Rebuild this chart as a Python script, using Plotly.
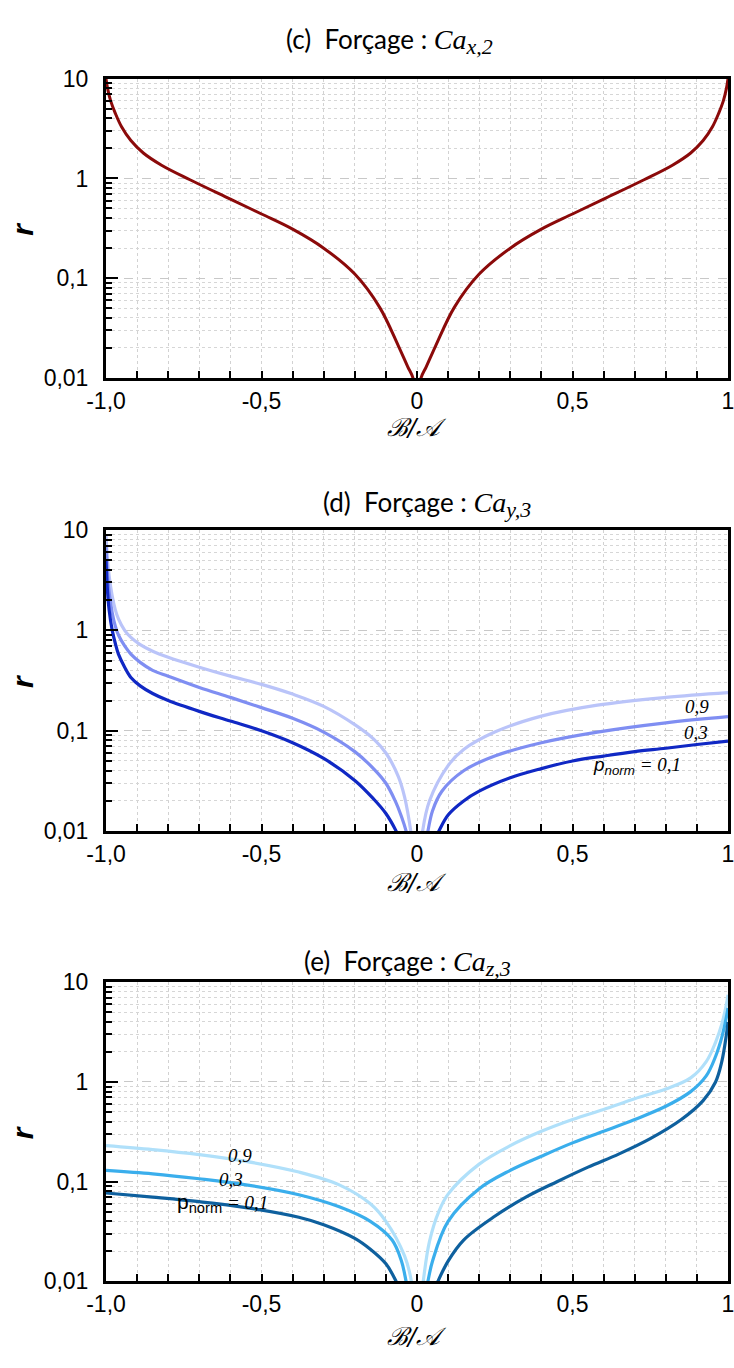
import plotly.graph_objects as go

# ---------------- data ----------------
# Panel (c)  Forcage Ca_x,2
c_x_left = [-1.0, -0.995, -0.985, -0.97, -0.95, -0.92, -0.88, -0.82, -0.73, -0.6, -0.5, -0.4, -0.3, -0.2, -0.12, -0.06, -0.03, -0.013, -0.006]
c_r_left = [10.0, 8.0, 6.0, 4.5, 3.3, 2.4, 1.8, 1.35, 0.97, 0.62, 0.44, 0.31, 0.2, 0.11, 0.051, 0.021, 0.013, 0.01, 0.006]
c_x_right = [0.006, 0.013, 0.03, 0.06, 0.12, 0.2, 0.3, 0.4, 0.5, 0.6, 0.73, 0.82, 0.88, 0.92, 0.95, 0.97, 0.985, 0.995, 1.0]
c_r_right = [0.006, 0.01, 0.013, 0.021, 0.051, 0.11, 0.2, 0.31, 0.44, 0.62, 0.97, 1.35, 1.8, 2.4, 3.3, 4.5, 6.0, 8.0, 10.0]

# Panel (d)  Forcage Ca_y,3  (p_norm = 0.1, 0.3, 0.9)
d_x_left_01 = [-1.0, -0.995, -0.99, -0.98, -0.97, -0.96, -0.94, -0.92, -0.89, -0.85, -0.8, -0.7, -0.6, -0.5, -0.4, -0.3, -0.2, -0.14, -0.1, -0.067, -0.05]
d_r_left_01 = [5.0, 2.4, 1.6, 1.0, 0.74, 0.58, 0.43, 0.34, 0.28, 0.235, 0.2, 0.156, 0.125, 0.1, 0.076, 0.053, 0.032, 0.021, 0.015, 0.01, 0.0075]
d_x_right_01 = [0.05, 0.07, 0.1, 0.15, 0.2, 0.3, 0.4, 0.5, 0.6, 0.7, 0.8, 0.9, 1.0]
d_r_right_01 = [0.0075, 0.01, 0.0145, 0.02, 0.025, 0.034, 0.042, 0.05, 0.056, 0.062, 0.067, 0.073, 0.079]

d_x_left_03 = [-1.0, -0.995, -0.99, -0.98, -0.97, -0.96, -0.94, -0.92, -0.89, -0.85, -0.8, -0.7, -0.6, -0.5, -0.4, -0.3, -0.2, -0.14, -0.1, -0.07, -0.05, -0.035, -0.025]
d_r_left_03 = [7.0, 3.5, 2.4, 1.5, 1.1, 0.9, 0.7, 0.58, 0.48, 0.4, 0.35, 0.27, 0.215, 0.17, 0.133, 0.097, 0.062, 0.042, 0.03, 0.02, 0.014, 0.01, 0.007]
d_x_right_03 = [0.025, 0.035, 0.05, 0.08, 0.15, 0.25, 0.4, 0.58, 0.8, 1.0]
d_r_right_03 = [0.007, 0.01, 0.016, 0.025, 0.04, 0.056, 0.076, 0.097, 0.12, 0.138]

d_x_left_09 = [-1.0, -0.995, -0.99, -0.98, -0.97, -0.96, -0.94, -0.92, -0.89, -0.85, -0.8, -0.7, -0.6, -0.5, -0.4, -0.3, -0.2, -0.14, -0.1, -0.06, -0.04, -0.02, -0.012]
d_r_left_09 = [9.0, 5.0, 3.5, 2.2, 1.6, 1.3, 1.0, 0.85, 0.72, 0.62, 0.54, 0.43, 0.35, 0.29, 0.232, 0.175, 0.115, 0.083, 0.06, 0.035, 0.022, 0.01, 0.006]
d_x_right_09 = [0.012, 0.018, 0.04, 0.1, 0.15, 0.25, 0.4, 0.58, 0.8, 1.0]
d_r_right_09 = [0.006, 0.01, 0.02, 0.045, 0.065, 0.097, 0.14, 0.18, 0.215, 0.24]

# Panel (e)  Forcage Ca_z,3
e_x_left_01 = [-1.0, -0.85, -0.7, -0.55, -0.38, -0.3, -0.2, -0.15, -0.1, -0.067, -0.05]
e_r_left_01 = [0.077, 0.07, 0.063, 0.055, 0.044, 0.037, 0.027, 0.021, 0.015, 0.01, 0.0075]
e_x_right_01 = [0.05, 0.067, 0.1, 0.15, 0.25, 0.35, 0.45, 0.55, 0.65, 0.75, 0.85, 0.92, 0.96, 0.98, 0.995, 1.0]
e_r_right_01 = [0.0075, 0.01, 0.016, 0.026, 0.045, 0.07, 0.1, 0.14, 0.19, 0.27, 0.42, 0.65, 1.0, 1.6, 3.0, 4.0]

e_x_left_03 = [-1.0, -0.85, -0.7, -0.55, -0.38, -0.25, -0.15, -0.08, -0.05, -0.035, -0.025]
e_r_left_03 = [0.13, 0.12, 0.107, 0.093, 0.074, 0.056, 0.04, 0.026, 0.016, 0.01, 0.007]
e_x_right_03 = [0.025, 0.035, 0.05, 0.1, 0.2, 0.3, 0.4, 0.5, 0.6, 0.7, 0.8, 0.88, 0.93, 0.96, 0.98, 0.995, 1.0]
e_r_right_03 = [0.007, 0.01, 0.016, 0.04, 0.085, 0.13, 0.18, 0.245, 0.32, 0.42, 0.57, 0.8, 1.15, 1.8, 2.8, 4.5, 5.5]

e_x_left_09 = [-1.0, -0.85, -0.7, -0.55, -0.38, -0.25, -0.15, -0.1, -0.04, -0.018, -0.012]
e_r_left_09 = [0.23, 0.21, 0.187, 0.16, 0.125, 0.093, 0.06, 0.04, 0.018, 0.01, 0.006]
e_x_right_09 = [0.012, 0.02, 0.04, 0.07, 0.1, 0.2, 0.3, 0.4, 0.5, 0.6, 0.7, 0.8, 0.88, 0.93, 0.96, 0.98, 0.995, 1.0]
e_r_right_09 = [0.006, 0.01, 0.025, 0.05, 0.075, 0.15, 0.23, 0.32, 0.42, 0.53, 0.68, 0.85, 1.1, 1.6, 2.5, 3.8, 6.0, 7.5]

x_tick_vals = [-1.0, -0.5, 0.0, 0.5, 1.0]
x_tick_text = ["-1,0", "-0,5", "0", "0,5", "1"]
y_tick_vals = [0.01, 0.1, 1, 10]
y_tick_text = ["0,01", "0,1", "1", "10"]
y_minor_vals = [m * d for d in (0.01, 0.1, 1) for m in range(2, 10)]

SERIF = "font-family:Liberation Serif"


def title_text(letter, sub):
    return (f"({letter})  Forçage : <span style='{SERIF};font-size:28px'><i>Ca</i></span>"
            f"<sub><span style='{SERIF};font-size:22px'><i>{sub}</i></span></sub>")


titles = [title_text("c", "x,2"), title_text("d", "y,3"), title_text("e", "z,3")]

# ---------------- layout geometry ----------------
W, H = 734, 1368
L, R = 106, 3
PW = W - L - R
panels_px = [(67, 372), (527, 834), (988, 1293)]
xtitle_px = [423, 886, 1349]


def py(p):
    return 1 - p / H


def px(p):
    return (p - L) / PW


fig = go.Figure()


def branch(xl, rl, xr, rr):
    return xl + [None] + xr, rl + [None] + rr


c_col = "#8B0A0A"
d_cols = ["#1028C4", "#7F8EF2", "#BAC4F9"]
e_cols = ["#0E609E", "#3AAEEC", "#B0E0FA"]

x, r = branch(c_x_left, c_r_left, c_x_right, c_r_right)
fig.add_trace(go.Scatter(x=x, y=r, mode="lines", line=dict(color=c_col, width=3, shape="spline", smoothing=1.0),
                         xaxis="x", yaxis="y", showlegend=False, hoverinfo="skip"))

d_sets = [
    (d_x_left_09, d_r_left_09, d_x_right_09, d_r_right_09, d_cols[2]),
    (d_x_left_03, d_r_left_03, d_x_right_03, d_r_right_03, d_cols[1]),
    (d_x_left_01, d_r_left_01, d_x_right_01, d_r_right_01, d_cols[0]),
]
for xl, rl, xr, rr, col in d_sets:
    x, r = branch(xl, rl, xr, rr)
    fig.add_trace(go.Scatter(x=x, y=r, mode="lines", line=dict(color=col, width=3.2, shape="spline", smoothing=1.0),
                             xaxis="x2", yaxis="y2", showlegend=False, hoverinfo="skip"))

e_sets = [
    (e_x_left_09, e_r_left_09, e_x_right_09, e_r_right_09, e_cols[2]),
    (e_x_left_03, e_r_left_03, e_x_right_03, e_r_right_03, e_cols[1]),
    (e_x_left_01, e_r_left_01, e_x_right_01, e_r_right_01, e_cols[0]),
]
for xl, rl, xr, rr, col in e_sets:
    x, r = branch(xl, rl, xr, rr)
    fig.add_trace(go.Scatter(x=x, y=r, mode="lines", line=dict(color=col, width=3.2, shape="spline", smoothing=1.0),
                             xaxis="x3", yaxis="y3", showlegend=False, hoverinfo="skip"))

tickfont = dict(family="Liberation Sans, Arial, sans-serif", size=23, color="black")

layout = dict(
    width=W, height=H,
    margin=dict(l=L, r=R, t=0, b=0),
    paper_bgcolor="white", plot_bgcolor="white",
    showlegend=False,
)

annotations = []
for i, (top, bot) in enumerate(panels_px):
    sfx = "" if i == 0 else str(i + 1)
    layout["xaxis" + sfx] = dict(
        domain=[0, 1], anchor="y" + sfx, range=[-1, 1],
        tickmode="array", tickvals=x_tick_vals, ticktext=x_tick_text,
        ticks="inside", ticklen=7, tickwidth=2, tickcolor="black",
        showline=True, linewidth=3, linecolor="black", mirror=True,
        showgrid=True, gridcolor="#d2d2d2", gridwidth=1, griddash="dot",
        zeroline=False, tickfont=tickfont, ticklabeloverflow="allow",
        minor=dict(dtick=0.1, tick0=0, ticks="inside", ticklen=7, tickwidth=2, tickcolor="black",
                   showgrid=True, gridcolor="#d2d2d2", gridwidth=1, griddash="dot"),
    )
    layout["yaxis" + sfx] = dict(
        domain=[py(bot), py(top)], anchor="x" + sfx, type="log", range=[-2, 1],
        tickmode="array", tickvals=y_tick_vals, ticktext=y_tick_text,
        ticks="inside", ticklen=12, tickwidth=2, tickcolor="black",
        showline=True, linewidth=3, linecolor="black", mirror=True,
        showgrid=True, gridcolor="#c8c8c8", gridwidth=1, griddash="dash",
        zeroline=False, tickfont=tickfont, ticklabelstandoff=10,
        minor=dict(tickmode="array", tickvals=y_minor_vals, ticks="inside", ticklen=6, tickwidth=2,
                   tickcolor="black", showgrid=True, gridcolor="#d6d6d6", gridwidth=1, griddash="dot"),
    )
    # y-axis title
    annotations.append(dict(text="<b><i>r</i></b>", xref="paper", yref="paper", x=px(22), y=py((top + bot) / 2),
                            xanchor="center", yanchor="middle", textangle=-90, showarrow=False,
                            font=dict(family="Liberation Sans, Arial", size=30, color="black")))
    # x-axis title
    annotations.append(dict(text="<i>ℬ/𝒜</i>", xref="paper", yref="paper", x=px(418), y=py(xtitle_px[i]),
                            xanchor="center", yanchor="middle", showarrow=False,
                            font=dict(family="DejaVu Serif, serif", size=25, color="black")))

title_pos = [(285, 8), (322, 480), (303, 948)]
for t, (tx, ty) in zip(titles, title_pos):
    annotations.append(dict(text=t, xref="paper", yref="paper", x=px(tx), y=py(ty), xanchor="left", yanchor="top",
                            showarrow=False, font=dict(family="Lato, Noto Sans, sans-serif", size=26, color="black")))

serif_it = dict(family="Liberation Serif, serif", size=19, color="black")
# panel (d) curve labels
annotations += [
    dict(text="<i>0,9</i>", xref="paper", yref="paper", x=px(714), y=py(707), showarrow=False, font=serif_it),
    dict(text="<i>0,3</i>", xref="paper", yref="paper", x=px(713), y=py(733), showarrow=False, font=serif_it),
    dict(text="<span style='font-family:Liberation Sans'><i>p</i><sub><i>norm</i></sub></span><i> = 0,1</i>",
         xref="paper", yref="paper", x=px(686), y=py(768), showarrow=False, font=serif_it),
]
# panel (e) curve labels
annotations += [
    dict(text="<i>0,9</i>", xref="paper", yref="paper", x=px(227), y=py(1177), showarrow=False, font=serif_it),
    dict(text="<i>0,3</i>", xref="paper", yref="paper", x=px(218), y=py(1202), showarrow=False, font=serif_it),
    dict(text="<span style='font-family:Liberation Sans;font-size:21px'>p<sub>norm</sub></span><i> = 0,1</i>",
         xref="paper", yref="paper", x=px(175), y=py(1228), showarrow=False, font=serif_it),
]

layout["annotations"] = annotations
fig.update_layout(**layout)
fig.write_html("out.html", config={"displayModeBar": False},
               post_script="document.body.style.margin='0';document.body.style.overflow='hidden';")
